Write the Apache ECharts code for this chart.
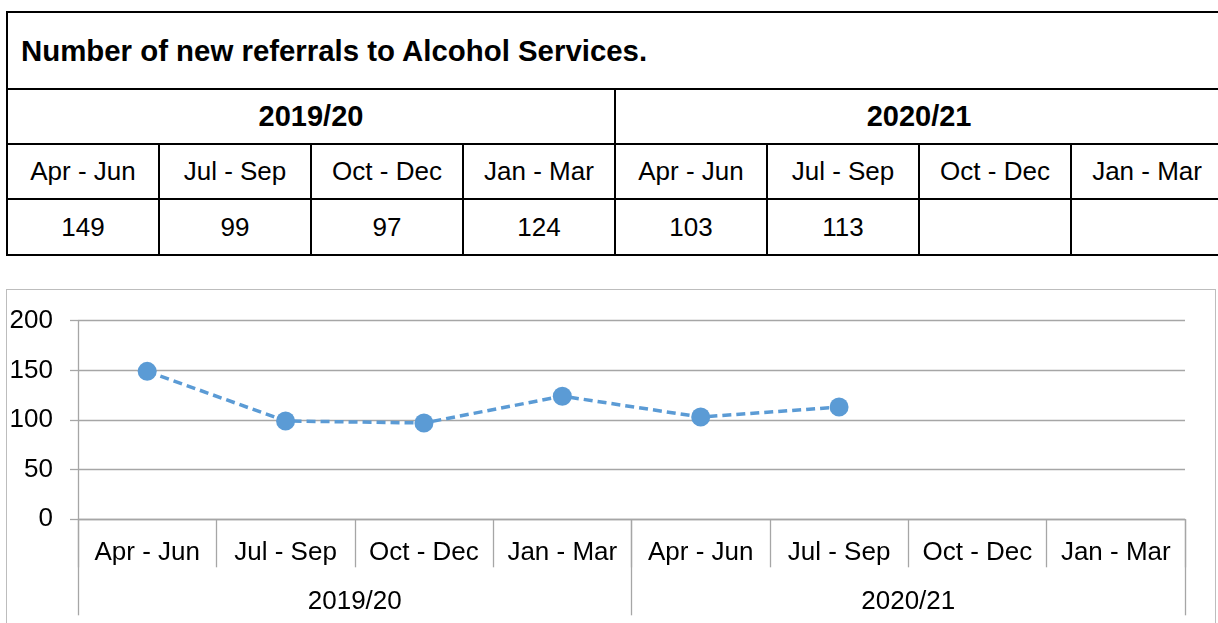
<!DOCTYPE html>
<html>
<head>
<meta charset="utf-8">
<script src="https://cdn.jsdelivr.net/npm/echarts@6/dist/echarts.min.js"></script>
<style>
  html, body { margin: 0; padding: 0; background: #fff; width: 1218px; height: 623px; overflow: hidden; position: relative; font-family: Arial, "Liberation Sans", sans-serif; }
  #tbl { position: absolute; left: 6px; top: 11px; border-collapse: collapse; table-layout: fixed; width: 1218px; }
  #tbl td { border: 2px solid #000; text-align: center; vertical-align: middle; padding: 0; color: #000; font-size: 26px; }
  #tbl td.title { text-align: left; font-weight: bold; font-size: 29.4px; padding-left: 13px; height: 75px; }
  #tbl td.year { font-weight: bold; font-size: 29px; height: 53px; }
  #tbl td.q { height: 53px; }
  #tbl td.v { height: 54px; }
  #frame { position: absolute; left: 6px; top: 289px; width: 1210px; height: 400px; border: 1.5px solid #bdbdbd; box-sizing: border-box; }
  #chart { position: absolute; left: 0; top: 260px; width: 1218px; height: 363px; }
</style>
</head>
<body>
<table id="tbl"></table>
<div id="frame"></div>
<div id="chart"></div>
<script>
const title = 'Number of new referrals to Alcohol Services.';
const years = ['2019/20', '2020/21'];
const quarters = ['Apr - Jun', 'Jul - Sep', 'Oct - Dec', 'Jan - Mar'];
const referrals = [149, 99, 97, 124, 103, 113, null, null];
const yMin = 0, yMax = 200, yStep = 50;

// table
const tbl = document.getElementById('tbl');
const nCols = years.length * quarters.length;
let html = '<colgroup>' + '<col style="width:152px">'.repeat(nCols) + '</colgroup>';
html += '<tr><td class="title" colspan="' + nCols + '">' + title + '</td></tr>';
html += '<tr>' + years.map(y => '<td class="year" colspan="' + quarters.length + '">' + y + '</td>').join('') + '</tr>';
html += '<tr>' + years.map(() => quarters.map(q => '<td class="q">' + q + '</td>').join('')).join('') + '</tr>';
html += '<tr>' + referrals.map(v => '<td class="v">' + (v == null ? '' : v) + '</td>').join('') + '</tr>';
tbl.innerHTML = html;

// chart
const cats = years.flatMap(() => quarters);
const font = 'Arial, "Liberation Sans", sans-serif';
const axisGray = '#a6a6a6';
const chart = echarts.init(document.getElementById('chart'));
chart.setOption({
  backgroundColor: 'transparent',
  animation: false,
  grid: { left: 78, right: 33, top: 60.7, bottom: 103.7 },
  xAxis: [
    {
      type: 'category', data: cats, position: 'bottom', boundaryGap: true,
      axisLine: { onZero: false, lineStyle: { color: axisGray, width: 1.3 } },
      axisTick: { show: true, interval: 0, length: 48, lineStyle: { color: axisGray, width: 1.3 } },
      axisLabel: { interval: 0, margin: 21, color: '#000', fontSize: 26, fontFamily: font, lineHeight: 26 },
      splitLine: { show: false }
    },
    {
      type: 'category', data: years, position: 'bottom', boundaryGap: true,
      axisLine: { show: false, onZero: false },
      axisTick: { show: true, interval: 0, length: 96, lineStyle: { color: axisGray, width: 1.3 } },
      axisLabel: { interval: 0, margin: 70, color: '#000', fontSize: 26, fontFamily: font, lineHeight: 26 },
      splitLine: { show: false }
    }
  ],
  yAxis: {
    type: 'value', min: yMin, max: yMax, interval: yStep,
    axisLine: { show: true, lineStyle: { color: axisGray, width: 1.3 } },
    axisTick: { show: true, length: 8, lineStyle: { color: axisGray, width: 1.3 } },
    axisLabel: { margin: 25, color: '#000', fontSize: 26, fontFamily: font },
    splitLine: { show: true, lineStyle: { color: axisGray, width: 1.3 } }
  },
  series: [{
    type: 'line', xAxisIndex: 0, data: referrals,
    symbol: 'circle', symbolSize: 19, connectNulls: false,
    itemStyle: { color: '#5b9bd5' },
    lineStyle: { color: '#5b9bd5', width: 3.5, type: [9, 5] }
  }]
});
</script>
</body>
</html>
